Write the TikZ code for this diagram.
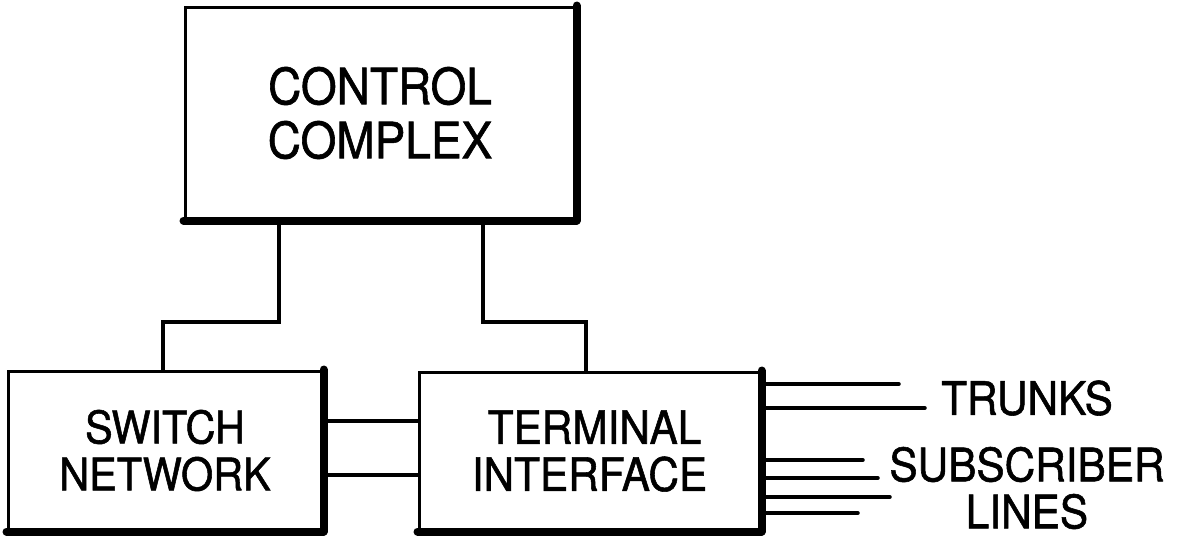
\documentclass[tikz,border=0pt]{standalone}
\usepackage{fontspec}
\setmainfont[FakeStretch=0.92,FakeBold=1.2]{TeX Gyre Heros}
\begin{document}
\begin{tikzpicture}[x=1pt,y=-1pt,
  blockbox/.style={draw, line width=3pt, rectangle, inner sep=0pt, align=center},
  shadowline/.style={line width=8pt, line join=round, line cap=round},
  wire/.style={line width=3.5pt, line join=miter},
  outline/.style={line width=3.5pt, line cap=round},
  lbl/.style={inner sep=0pt, align=center, font=\fontsize{46}{47}\selectfont}]
\useasboundingbox (0,0) rectangle (1179,536);
% blocks
\node[blockbox, minimum width=390pt, minimum height=212pt,
      font=\fontsize{50}{54}\selectfont] (cc) at (380,113) {CONTROL\\COMPLEX};
\node[blockbox, minimum width=314pt, minimum height=159pt,
      font=\fontsize{45}{47}\selectfont] (sw) at (165,450.5) {SWITCH\\NETWORK};
\node[blockbox, minimum width=341pt, minimum height=158pt,
      font=\fontsize{46}{47}\selectfont] (ti) at (589.5,451) {\hspace*{10pt}TERMINAL\\INTERFACE};
% shadows
\draw[shadowline] (cc.south west) -- (cc.south east) -- (cc.north east);
\draw[shadowline] (sw.south west) -- (sw.south east) -- (sw.north east);
\draw[shadowline] (ti.south west) -- (ti.south east) -- (ti.north east);
% bend points
\coordinate (l1) at (279,322);
\coordinate (l2) at (163,322);
\coordinate (r1) at (483,322);
\coordinate (r2) at (586,322);
\draw[wire] (cc.south -| l1) -- (l1) -- (l2) -- (sw.north -| l2);
\draw[wire] (cc.south -| r1) -- (r1) -- (r2) -- (ti.north -| r2);
% links between switch network and terminal interface
\coordinate (h1) at (0,421);
\coordinate (h2) at (0,475);
\draw[wire] (sw.east |- h1) -- (ti.west |- h1);
\draw[wire] (sw.east |- h2) -- (ti.west |- h2);
% outgoing lines
\coordinate (t1) at (899,384);
\coordinate (t2) at (925,408);
\coordinate (s1) at (863,460);
\coordinate (s2) at (878,478);
\coordinate (s3) at (890,497);
\coordinate (s4) at (858,513);
\foreach \e in {t1,t2,s1,s2,s3,s4}
  \draw[outline] (ti.east |- \e) -- (\e);
% labels
\node[lbl] (trunks) at (1027,398) {TRUNKS};
\node[lbl] (subs) at (1027,488) {SUBSCRIBER\\LINES};
\end{tikzpicture}
\end{document}
